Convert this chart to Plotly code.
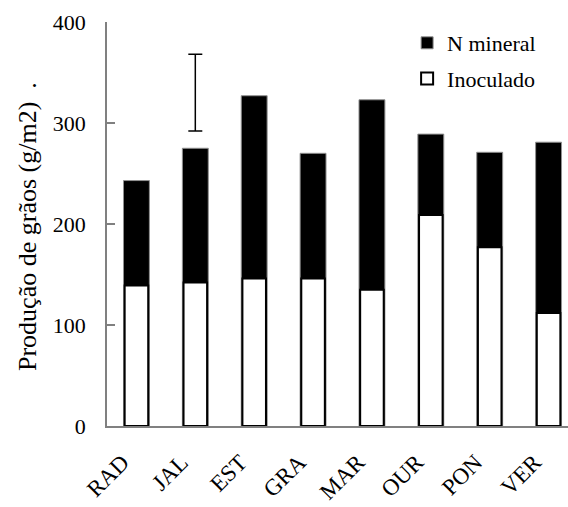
import plotly.graph_objects as go

categories = ["RAD", "JAL", "EST", "GRA", "MAR", "OUR", "PON", "VER"]
n_mineral = [243, 275, 327, 270, 323, 289, 271, 281]
inoculado = [139, 142, 146, 146, 135, 209, 177, 112]
err_cat = ["JAL"]
err_center = [330]
err_half = [38]
y_ticks = [0, 100, 200, 300, 400]

FONT = "Liberation Serif, Times New Roman, serif"

fig = go.Figure()
fig.add_trace(go.Bar(
    x=categories, y=n_mineral, name="N mineral",
    marker=dict(color="black", line=dict(color="#909090", width=1)),
    width=0.44, legendgroup="a",
))
fig.add_trace(go.Bar(
    x=categories, y=inoculado, name="Inoculado",
    marker=dict(color="white", line=dict(color="black", width=2)),
    width=0.40, legendgroup="b",
))
fig.add_trace(go.Scatter(
    x=err_cat, y=err_center, mode="markers",
    marker=dict(size=1, color="rgba(0,0,0,0)"),
    error_y=dict(type="data", array=err_half, symmetric=True,
                 color="black", thickness=1.5, width=7),
    showlegend=False, hoverinfo="skip",
))

fig.update_layout(
    width=568, height=507,
    margin=dict(l=107, r=0, t=22, b=81, autoexpand=False),
    paper_bgcolor="white", plot_bgcolor="white",
    barmode="overlay",
    font=dict(family=FONT, size=22, color="black"),
    showlegend=True,
    legend=dict(
        x=0.651, y=1.0, xanchor="left", yanchor="top",
        font=dict(family=FONT, size=22, color="black"),
        traceorder="grouped", tracegroupgap=4,
        bgcolor="rgba(0,0,0,0)",
    ),
    xaxis=dict(
        type="category", categoryorder="array", categoryarray=categories,
        range=[-0.5, 7.33], automargin=False,
        showline=True, linecolor="#808080", linewidth=1.5,
        ticks="", tickangle=-45, showgrid=False, zeroline=False,
        tickfont=dict(family=FONT, size=23, color="black"),
        ticklabelstandoff=12, ticklabelshift=-14,
    ),
    yaxis=dict(
        range=[0, 400], tickvals=y_ticks, automargin=False,
        showline=True, linecolor="#808080", linewidth=1.5,
        ticks="inside", ticklen=8, tickcolor="#808080", tickwidth=1.5,
        showgrid=False, zeroline=False,
        tickfont=dict(family=FONT, size=22, color="black"),
        ticklabelstandoff=15,
    ),
    annotations=[dict(
        text="Produção de grãos (g/m2)  .",
        textangle=-90, xref="paper", yref="paper",
        x=(27 - 107) / 461, y=(426 - 227) / 404,
        xanchor="center", yanchor="middle", showarrow=False,
        font=dict(family=FONT, size=26, color="black"),
    )],
)

fig.write_html("out.html", config={"displayModeBar": False},
               post_script="document.body.style.margin='0';")
